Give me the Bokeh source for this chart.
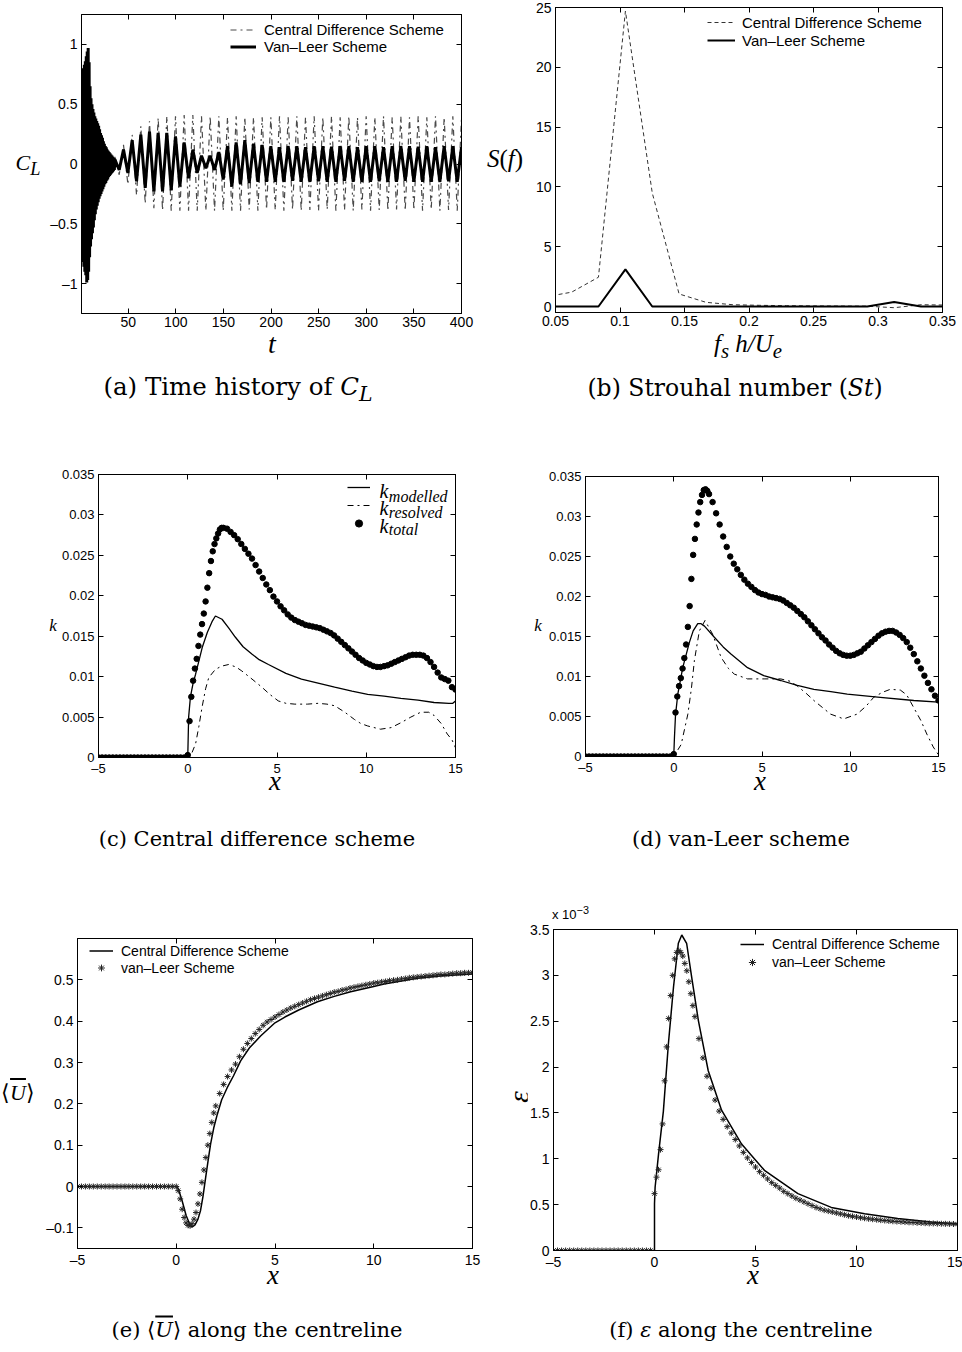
import math
from bokeh.plotting import figure
from bokeh.models import Range1d, LinearAxis, FixedTicker, Label, Legend, LegendItem, Div
from bokeh.layouts import column, row
from bokeh.embed import file_html
from bokeh.resources import INLINE

# ======================= DATA =======================
# (a) time history of C_L
cl_dense_t = [1.0, 1.5, 2.0, 2.5, 3.0, 3.5, 4.0, 4.5, 5.0, 5.5,
              6.0, 6.5, 7.0, 7.5, 8.0, 8.5, 9.0, 9.5, 10.0, 10.5,
              11.0, 11.5, 12.0, 12.5, 13.0, 13.5, 14.0, 14.5, 15.0, 15.5,
              16.0, 16.5, 17.0, 17.5, 18.0, 18.5, 19.0, 19.5, 20.0, 20.5,
              21.0, 21.5, 22.0, 22.5, 23.0, 23.5, 24.0, 24.5, 25.0, 25.5,
              26.0, 26.5, 27.0, 27.5, 28.0, 28.5, 29.0, 29.5, 30.0, 30.5,
              31.0, 31.5, 32.0, 32.5, 33.0, 33.5, 34.0, 34.5, 35.0, 35.5]
cl_dense_vl = [0.75, -0.78, 0.78, -0.82, 0.80, -0.86, 0.83, -0.90, 0.86, -0.93,
               0.90, -0.99, 0.94, -0.97, 0.97, -0.90, 0.85, -0.78, 0.65, -0.69,
               0.55, -0.63, 0.50, -0.58, 0.46, -0.53, 0.43, -0.47, 0.40, -0.42,
               0.38, -0.38, 0.36, -0.35, 0.34, -0.32, 0.32, -0.29, 0.29, -0.27,
               0.26, -0.25, 0.24, -0.23, 0.22, -0.21, 0.19, -0.19, 0.17, -0.17,
               0.15, -0.16, 0.14, -0.14, 0.12, -0.13, 0.11, -0.11, 0.10, -0.10,
               0.09, -0.09, 0.08, -0.08, 0.07, -0.07, 0.06, -0.06, 0.05, -0.05]
cl_ext_t = [36.0, 40.6, 45.1, 49.7, 54.2, 58.8, 63.3, 67.9, 72.4, 77.0,
            81.5, 86.1, 90.6, 95.2, 99.7, 104.3, 108.8, 113.4, 117.9, 122.5,
            127.0, 131.6, 136.1, 140.7, 145.2, 149.8, 154.3, 158.9, 163.4, 168.0,
            172.5, 177.1, 181.6, 186.2, 190.7, 195.3, 199.8, 204.4, 208.9, 213.5,
            218.0, 222.6, 227.1, 231.7, 236.2, 240.8, 245.3, 249.9, 254.4, 259.0,
            263.5, 268.1, 272.6, 277.2, 281.7, 286.3, 290.8, 295.4, 299.9, 304.5,
            309.0, 313.6, 318.1, 322.7, 327.2, 331.8, 336.3, 340.9, 345.4, 350.0,
            354.5, 359.1, 363.6, 368.2, 372.7, 377.3, 381.8, 386.4, 390.9, 395.5,
            400.0]
cl_cd = [0.06, -0.09, 0.16, -0.17, 0.245, -0.26, 0.315, -0.33, 0.357, -0.37,
         0.385, -0.385, 0.40, -0.39, 0.40, -0.39, 0.41, -0.39, 0.41, -0.39,
         0.40, -0.39, 0.40, -0.39, 0.40, -0.39, 0.39, -0.39, 0.40, -0.39,
         0.39, -0.38, 0.39, -0.39, 0.39, -0.38, 0.39, -0.385, 0.40, -0.39,
         0.39, -0.38, 0.40, -0.39, 0.39, -0.385, 0.40, -0.39, 0.39, -0.38,
         0.40, -0.39, 0.39, -0.385, 0.40, -0.39, 0.39, -0.38, 0.40, -0.39,
         0.39, -0.385, 0.40, -0.39, 0.39, -0.38, 0.40, -0.39, 0.39, -0.385,
         0.40, -0.39, 0.39, -0.38, 0.40, -0.39, 0.39, -0.385, 0.40, -0.39,
         0.38]
cl_vl = [0.04, -0.05, 0.12, -0.075, 0.20, -0.145, 0.245, -0.20, 0.27, -0.23,
         0.26, -0.23, 0.26, -0.22, 0.23, -0.19, 0.18, -0.12, 0.12, -0.075,
         0.07, -0.035, 0.07, -0.05, 0.10, -0.13, 0.15, -0.19, 0.18, -0.17,
         0.20, -0.16, 0.17, -0.15, 0.16, -0.15, 0.15, -0.15, 0.14, -0.15,
         0.15, -0.14, 0.15, -0.15, 0.14, -0.15, 0.15, -0.145, 0.15, -0.15,
         0.145, -0.15, 0.15, -0.14, 0.15, -0.15, 0.14, -0.15, 0.15, -0.15,
         0.15, -0.145, 0.14, -0.15, 0.15, -0.15, 0.15, -0.14, 0.15, -0.15,
         0.145, -0.15, 0.15, -0.15, 0.14, -0.15, 0.15, -0.145, 0.15, -0.15,
         0.14]
a_xticks = [50, 100, 150, 200, 250, 300, 350, 400]
a_xlabels = ["50", "100", "150", "200", "250", "300", "350", "400"]
a_yticks = [-1, -0.5, 0, 0.5, 1]
a_ylabels = ["\u20131", "\u20130.5", "0", "0.5", "1"]

# (b) spectrum
st_f = [0.0417, 0.0625, 0.0833, 0.1042, 0.125, 0.1458, 0.1667, 0.1875,
        0.2083, 0.2292, 0.25, 0.2708, 0.2917, 0.3125, 0.3333, 0.3542]
st_cd = [0.8, 1.2, 2.45, 24.7, 9.5, 1.05, 0.35, 0.15,
         0.1, 0.07, 0.05, 0.04, 0.03, -0.1, 0.15, 0.12]
st_vl = [0.0, 0.0, 0.0, 3.1, 0.0, 0.0, 0.0, 0.0,
         0.0, 0.0, 0.0, 0.0, 0.0, 0.38, 0.0, 0.0]
b_xticks = [0.05, 0.1, 0.15, 0.2, 0.25, 0.3, 0.35]
b_xlabels = ["0.05", "0.1", "0.15", "0.2", "0.25", "0.3", "0.35"]
b_yticks = [0, 5, 10, 15, 20, 25]
b_ylabels = ["0", "5", "10", "15", "20", "25"]

# common streamwise sample positions (markers)
xg = [-5.0, -4.8, -4.6, -4.4, -4.2, -4.0, -3.8, -3.6, -3.4, -3.2,
      -3.0, -2.8, -2.6, -2.4, -2.2, -2.0, -1.8, -1.6, -1.4, -1.2,
      -1.0, -0.8, -0.6, -0.4, -0.2,
      0.0, 0.1, 0.2, 0.3, 0.4, 0.5, 0.6, 0.7, 0.8, 0.9,
      1.0, 1.1, 1.2, 1.3, 1.4, 1.5, 1.6, 1.7, 1.8, 1.9, 2.0,
      2.2, 2.4, 2.6, 2.8, 3.0, 3.2, 3.4, 3.6, 3.8, 4.0,
      4.2, 4.4, 4.6, 4.8, 5.0, 5.2, 5.4, 5.6, 5.8, 6.0,
      6.2, 6.4, 6.6, 6.8, 7.0, 7.2, 7.4, 7.6, 7.8, 8.0,
      8.2, 8.4, 8.6, 8.8, 9.0, 9.2, 9.4, 9.6, 9.8, 10.0,
      10.2, 10.4, 10.6, 10.8, 11.0, 11.2, 11.4, 11.6, 11.8, 12.0,
      12.2, 12.4, 12.6, 12.8, 13.0, 13.2, 13.4, 13.6, 13.8, 14.0,
      14.2, 14.4, 14.6, 14.8, 15.0]

# (c) central difference scheme: k
kc_total = [0, 0, 0, 0, 0, 0, 0, 0, 0, 0,
            0, 0, 0, 0, 0, 0, 0, 0, 0, 0,
            0, 0, 0, 0, 0,
            0.0003, 0.0045, 0.0075, 0.0095, 0.011, 0.0122, 0.0138, 0.0152, 0.0165, 0.0178,
            0.0193, 0.021, 0.0228, 0.0243, 0.0255, 0.0264, 0.0271, 0.0277, 0.0282, 0.0284, 0.0284,
            0.0283, 0.0279, 0.0275, 0.027, 0.0264, 0.0258, 0.0252, 0.0246, 0.0238, 0.023,
            0.0222, 0.0214, 0.0207, 0.0199, 0.0193, 0.0187, 0.0182, 0.0177, 0.0173, 0.017,
            0.0168, 0.0166, 0.0164, 0.0163, 0.0162, 0.0161, 0.016, 0.0158, 0.0156, 0.0154,
            0.0151, 0.0147, 0.0143, 0.0139, 0.0135, 0.0131, 0.0127, 0.0123, 0.012, 0.0117,
            0.0115, 0.0113, 0.0112, 0.0112, 0.0113, 0.0114, 0.0116, 0.0118, 0.012, 0.0122,
            0.0124, 0.0126, 0.0127, 0.0127, 0.0127, 0.0126, 0.0123, 0.0118, 0.0112, 0.0105,
            0.0099, 0.0097, 0.0095, 0.0087, 0.0084]
kc_mod_x = [-5, 0, 0.05, 0.15, 0.3, 0.44, 0.81, 1.1, 1.36, 1.55, 1.92, 2.3, 2.66, 3.1, 3.59,
            4.0, 4.52, 5.5, 6.37, 7.3, 8.23, 9.2, 10.08, 11.0, 11.94, 12.9, 13.8, 14.63, 14.85, 15.0]
kc_mod = [0, 0, 0.005, 0.0075, 0.0092, 0.0103, 0.0136, 0.0155, 0.0168, 0.0175, 0.0171, 0.016,
          0.0149, 0.0137, 0.0128, 0.0121, 0.0115, 0.0104, 0.0097, 0.0092, 0.0087, 0.0082, 0.0078,
          0.0076, 0.0073, 0.0071, 0.0068, 0.0067, 0.0067, 0.007]
kc_res_x = [-5, 0, 0.2, 0.44, 0.62, 0.8, 1.0, 1.18, 1.55, 1.9, 2.29, 2.7, 3.03, 3.6, 4.15, 4.6,
            5.07, 5.5, 6.0, 6.7, 7.3, 7.8, 8.23, 8.8, 9.34, 9.7, 10.08, 10.8, 11.4, 11.94, 12.5,
            13.05, 13.5, 13.8, 14.2, 14.54, 14.8, 15.0]
kc_res = [0, 0, 0.0004, 0.0017, 0.0038, 0.0062, 0.0085, 0.0099, 0.0109, 0.0113, 0.0115, 0.0112,
          0.0107, 0.0097, 0.0087, 0.0078, 0.007, 0.0067, 0.0066, 0.0066, 0.0067, 0.0066, 0.0064,
          0.0056, 0.0047, 0.0042, 0.0039, 0.0035, 0.0037, 0.0043, 0.005, 0.0056, 0.0056, 0.0052,
          0.0042, 0.0029, 0.0022, 0.0012]

# (d) van-Leer scheme: k
kd_total = [0, 0, 0, 0, 0, 0, 0, 0, 0, 0,
            0, 0, 0, 0, 0, 0, 0, 0, 0, 0,
            0, 0, 0, 0, 0,
            0.0003, 0.0055, 0.0075, 0.0088, 0.0098, 0.011, 0.0123, 0.014, 0.0162, 0.0188,
            0.0222, 0.0252, 0.0272, 0.029, 0.0305, 0.0318, 0.0327, 0.0333, 0.0334, 0.0332, 0.0328,
            0.0318, 0.0304, 0.029, 0.0275, 0.0262, 0.025, 0.0241, 0.0234, 0.0227, 0.0221,
            0.0216, 0.0212, 0.0208, 0.0205, 0.0203, 0.0202, 0.02, 0.0199, 0.0198, 0.0197,
            0.0195, 0.0192, 0.0189, 0.0186, 0.0182, 0.0178, 0.0174, 0.0169, 0.0164, 0.0159,
            0.0154, 0.0149, 0.0145, 0.014, 0.0136, 0.0132, 0.0129, 0.0127, 0.0126, 0.0126,
            0.0127, 0.0129, 0.0131, 0.0135, 0.0139, 0.0143, 0.0147, 0.0151, 0.0154, 0.0156,
            0.0157, 0.0157, 0.0155, 0.0152, 0.0148, 0.0143, 0.0136, 0.0128, 0.0119, 0.011,
            0.0101, 0.0092, 0.0084, 0.0076, 0.007]
kd_mod_x = [-5, 0, 0.04, 0.1, 0.23, 0.51, 0.89, 1.1, 1.36, 1.55, 1.74, 2.3, 2.8, 3.24, 4.18,
            5.1, 6.06, 7.0, 7.94, 8.9, 9.83, 11.7, 13.6, 15.0]
kd_mod = [0, 0, 0.0024, 0.0052, 0.0078, 0.0111, 0.0143, 0.0157, 0.0166, 0.0166, 0.0163, 0.0149,
          0.0137, 0.0128, 0.0111, 0.0101, 0.0095, 0.0089, 0.0084, 0.0081, 0.0078, 0.0074, 0.007,
          0.0068]
kd_res_x = [-5, 0, 0.42, 0.8, 1.0, 1.17, 1.45, 1.77, 2.2, 2.68, 3.1, 3.43, 4.18, 5.12, 6.06,
            6.6, 7.0, 7.5, 7.94, 8.88, 9.63, 10.39, 10.9, 11.33, 11.8, 12.27, 12.84, 13.2, 13.6,
            14.0, 14.34, 14.7, 15.0]
kd_res = [0, 0, 0.0015, 0.0053, 0.0085, 0.012, 0.0157, 0.017, 0.0153, 0.0124, 0.011, 0.0103,
          0.0097, 0.0097, 0.0097, 0.0094, 0.0088, 0.0079, 0.007, 0.0053, 0.0047, 0.0053, 0.0063,
          0.0074, 0.008, 0.0084, 0.0083, 0.0077, 0.0061, 0.0045, 0.0028, 0.0012, 0.0002]
k_xticks = [-5, 0, 5, 10, 15]
k_xlabels = ["\u20135", "0", "5", "10", "15"]
k_yticks = [0, 0.005, 0.01, 0.015, 0.02, 0.025, 0.03, 0.035]
k_ylabels = ["0", "0.005", "0.01", "0.015", "0.02", "0.025", "0.03", "0.035"]

# (e) mean velocity along the centreline
u_vl = [0, 0, 0, 0, 0, 0, 0, 0, 0, 0,
        0, 0, 0, 0, 0, 0, 0, 0, 0, 0,
        0, 0, 0, 0, 0,
        0.0, -0.01, -0.03, -0.055, -0.075, -0.088, -0.094, -0.095, -0.09, -0.079,
        -0.063, -0.042, -0.018, 0.01, 0.04, 0.07, 0.1, 0.128, 0.155, 0.178, 0.195,
        0.225, 0.247, 0.266, 0.282, 0.296, 0.314, 0.332, 0.346, 0.358, 0.37,
        0.38, 0.39, 0.398, 0.404, 0.41, 0.416, 0.422, 0.427, 0.432, 0.436,
        0.44, 0.444, 0.448, 0.452, 0.455, 0.458, 0.461, 0.464, 0.467, 0.47,
        0.472, 0.475, 0.477, 0.48, 0.482, 0.484, 0.486, 0.488, 0.49, 0.492,
        0.493, 0.495, 0.496, 0.498, 0.499, 0.5, 0.502, 0.503, 0.505, 0.506,
        0.507, 0.508, 0.509, 0.51, 0.511, 0.512, 0.513, 0.513, 0.514, 0.515,
        0.516, 0.516, 0.517, 0.517, 0.518]
u_cd_x = [-5, 0, 0.1, 0.3, 0.5, 0.7, 0.81, 0.95, 1.1, 1.23, 1.35, 1.49, 1.62, 1.74, 1.9, 2.08,
          2.3, 2.58, 2.9, 3.26, 3.7, 4.27, 5.0, 5.5, 6.2, 7.15, 8.0, 8.83, 10.0, 10.52, 12.21,
          13.5, 15.0]
u_cd = [0, 0, -0.005, -0.035, -0.07, -0.093, -0.098, -0.093, -0.079, -0.058, -0.025, 0.022,
        0.065, 0.103, 0.142, 0.175, 0.21, 0.239, 0.268, 0.304, 0.335, 0.364, 0.396, 0.41, 0.427,
        0.447, 0.46, 0.471, 0.484, 0.49, 0.504, 0.51, 0.514]
u_yticks = [-0.1, 0, 0.1, 0.2, 0.3, 0.4, 0.5]
u_ylabels = ["\u20130.1", "0", "0.1", "0.2", "0.3", "0.4", "0.5"]

# (f) dissipation along the centreline (units of 1e-3)
eps_vl = [0, 0, 0, 0, 0, 0, 0, 0, 0, 0,
          0, 0, 0, 0, 0, 0, 0, 0, 0, 0,
          0, 0, 0, 0, 0,
          0.62, 0.8, 0.88, 1.1, 1.38, 1.85, 2.22, 2.53, 2.78, 3.0,
          3.18, 3.25, 3.27, 3.25, 3.21, 3.13, 3.05, 2.93, 2.8, 2.67, 2.55,
          2.31, 2.1, 1.9, 1.77, 1.64, 1.52, 1.43, 1.35, 1.28, 1.21,
          1.14, 1.07, 1.01, 0.96, 0.91, 0.86, 0.82, 0.78, 0.74, 0.71,
          0.68, 0.645, 0.62, 0.595, 0.57, 0.55, 0.53, 0.51, 0.49, 0.47,
          0.455, 0.44, 0.43, 0.42, 0.41, 0.4, 0.39, 0.38, 0.372, 0.365,
          0.358, 0.352, 0.346, 0.341, 0.336, 0.331, 0.327, 0.323, 0.319, 0.316,
          0.313, 0.31, 0.307, 0.305, 0.302, 0.3, 0.298, 0.296, 0.295, 0.293,
          0.292, 0.291, 0.29, 0.289, 0.288]
eps_cd_x = [-5, 0, 0.0, 0.03, 0.2, 0.44, 0.69, 0.94, 1.18, 1.35, 1.59, 1.84, 2.17, 2.66, 3.32,
            4.31, 5.46, 7.1, 8.75, 10.4, 12.04, 13.68, 15.0]
eps_cd = [0, 0, 0.51, 0.69, 1.05, 1.52, 2.26, 2.87, 3.35, 3.44, 3.35, 2.98, 2.51, 1.96, 1.53,
          1.16, 0.87, 0.62, 0.47, 0.4, 0.35, 0.31, 0.29]
e_yticks = [0, 0.5, 1, 1.5, 2, 2.5, 3, 3.5]
e_ylabels = ["0", "0.5", "1", "1.5", "2", "2.5", "3", "3.5"]

for a, b in ((cl_dense_t, cl_dense_vl), (cl_ext_t, cl_cd), (cl_ext_t, cl_vl), (st_f, st_cd),
             (st_f, st_vl), (xg, kc_total), (xg, kd_total), (xg, u_vl), (xg, eps_vl),
             (kc_mod_x, kc_mod), (kc_res_x, kc_res), (kd_mod_x, kd_mod), (kd_res_x, kd_res),
             (u_cd_x, u_cd), (eps_cd_x, eps_cd)):
    assert len(a) == len(b), (len(a), len(b))

# ======================= STYLE / HELPERS =======================
SANS = "Liberation Sans"
SERIF = "Liberation Serif"
CAP = "DejaVu Serif"


def style_axis(ax, ticks, labels, size, hidden=False, standoff=4):
    ax.ticker = FixedTicker(ticks=ticks)
    ax.major_tick_in = 5
    ax.major_tick_out = 0
    ax.minor_tick_line_color = None
    ax.axis_line_color = "black"
    ax.major_tick_line_color = "black"
    if hidden:
        ax.major_label_text_font_size = "1px"
        ax.major_label_text_color = None
        ax.major_label_standoff = 0
        ax.axis_label = None
    else:
        ax.major_label_overrides = dict(zip(ticks, labels))
        ax.major_label_text_font = SANS
        ax.major_label_text_font_size = size
        ax.major_label_text_color = "black"
        ax.major_label_standoff = standoff


def make_panel(ox, oy, W, H, bl, br, bt, bb, xr, yr, xt, xl, yt, yl, size):
    p = figure(width=W, height=H, x_range=Range1d(*xr), y_range=Range1d(*yr),
               output_backend="svg", toolbar_location=None, frame_align=False,
               min_border_left=bl, min_border_right=br, min_border_top=bt, min_border_bottom=bb)
    p.xgrid.visible = False
    p.ygrid.visible = False
    p.outline_line_color = "black"
    p.outline_line_alpha = 1.0
    p.outline_line_width = 1
    p.background_fill_color = "white"
    p.border_fill_color = "white"
    style_axis(p.xaxis[0], xt, xl, size, standoff=3)
    style_axis(p.yaxis[0], yt, yl, size, standoff=4)
    top = LinearAxis()
    style_axis(top, xt, xl, size, hidden=True)
    right = LinearAxis()
    style_axis(right, yt, yl, size, hidden=True)
    p.add_layout(top, "above")
    p.add_layout(right, "right")
    g = (ox, oy, bl, bt, W - bl - br, H - bt - bb, xr[0], xr[1], yr[0], yr[1])
    return p, g


def put(p, g, px, py, text, size, font=SERIF, fstyle="italic", align="center"):
    # text inside the plot frame (page pixel position -> data position)
    ox, oy, L, T, W, H, x0, x1, y0, y1 = g
    x = x0 + (px - ox - L) / W * (x1 - x0)
    y = y1 - (py - oy - T) / H * (y1 - y0)
    p.add_layout(Label(x=x, y=y, text=text, text_font=font, text_font_size=f"{size}px",
                       text_font_style=fstyle, text_align=align, text_baseline="middle",
                       text_color="black"))


def sp(px, py, html, size, font=SERIF, italic=True, align="center", rot=0):
    return (px, py, html, size, font, italic, align, rot)


def textbox(x0, y0, w, h, items):
    parts = [f'<div style="position:relative;width:{w}px;height:{h}px;overflow:visible;">']
    for (px, py, html, size, font, italic, align, rot) in items:
        tx = {"center": "-50%", "left": "0%", "right": "-100%"}[align]
        tr = f"translate({tx},-50%)" + (f" rotate({rot}deg)" if rot else "")
        st = "italic" if italic else "normal"
        parts.append(
            f'<span style="position:absolute;left:{px - x0:.1f}px;top:{py - y0:.1f}px;'
            f'transform:{tr};white-space:nowrap;line-height:1;font-family:\'{font}\';'
            f'font-size:{size}px;font-style:{st};color:#000;">{html}</span>')
    parts.append('</div>')
    return Div(text="".join(parts), width=w, height=h, margin=0,
               styles={"overflow": "visible"})


def legend(p, items, loc, gw, standoff, pitch, fsize):
    lg = Legend(items=items, location=loc, orientation="vertical", padding=0, spacing=0,
                margin=0, glyph_width=gw, glyph_height=pitch, label_height=pitch,
                label_standoff=standoff, label_text_font=SANS, label_text_font_size=fsize,
                label_text_color="black", border_line_color=None, background_fill_alpha=0)
    p.add_layout(lg)


OVU = '\u27e8<span style="text-decoration:overline;font-style:italic;">U</span>\u27e9'

# ======================= (a) =======================
pa, ga = make_panel(46, 0, 435, 335, 35, 20, 14, 22, (1, 400), (-1.25, 1.25),
                    a_xticks, a_xlabels, a_yticks, a_ylabels, "14px")
r_cd = pa.line(cl_ext_t, cl_cd, line_color="#4a4a4a", line_width=1.2, line_dash="dashdot")
r_vl = pa.line(cl_dense_t + cl_ext_t, cl_dense_vl + cl_vl, line_color="black", line_width=3)
legend(pa, [LegendItem(label="Central Difference Scheme", renderers=[r_cd]),
            LegendItem(label="Van\u2013Leer Scheme", renderers=[r_vl])],
       (149, 258), 26, 8, 17, "15px")
dla = textbox(0, 0, 46, 335, [sp(28, 165, "C<sub>L</sub>", 22)])
dba = textbox(0, 335, 481, 115, [
    sp(272, 344, "t", 28),
    sp(238, 390, "(a) Time history of <i>C<sub>L</sub></i>", 24.5, CAP, False)])

# ======================= (b) =======================
pb, gb = make_panel(531, 0, 431, 335, 24, 20, 7, 23, (0.05, 0.35), (-0.5, 25),
                    b_xticks, b_xlabels, b_yticks, b_ylabels, "14px")
r_bcd = pb.line(st_f, st_cd, line_color="#333333", line_width=1, line_dash="4 3")
r_bvl = pb.line(st_f, st_vl, line_color="black", line_width=2)
legend(pb, [LegendItem(label="Central Difference Scheme", renderers=[r_bcd]),
            LegendItem(label="Van\u2013Leer Scheme", renderers=[r_bvl])],
       (152, 263), 28, 7, 18, "15px")
dlb = textbox(481, 0, 50, 335, [sp(505, 158, "S<span style='font-style:normal'>(</span>f<span style='font-style:normal'>)</span>", 25)])
dbb = textbox(481, 335, 481, 115, [
    sp(748, 346, "f<sub>s</sub> h/U<sub>e</sub>", 25),
    sp(735, 389, "(b) Strouhal number (<i>St</i>)", 23.5, CAP, False)])

# ======================= (c) =======================
pc, gc = make_panel(58, 450, 423, 329, 38, 26, 24, 22, (-5, 15), (0, 0.035),
                    k_xticks, k_xlabels, k_yticks, k_ylabels, "13px")
r_cm = pc.line(kc_mod_x, kc_mod, line_color="black", line_width=1.3)
r_cr = pc.line(kc_res_x, kc_res, line_color="black", line_width=1, line_dash="dashdot")
r_ct = pc.scatter(xg, kc_total, marker="circle", size=5.5, fill_color="black", line_color="black")
legend(pc, [LegendItem(label=" ", renderers=[r_cm]),
            LegendItem(label=" ", renderers=[r_cr]),
            LegendItem(label=" ", renderers=[r_ct])],
       (249, 225), 23, 5, 18, "10px")
put(pc, gc, 383, 490, "k", 20)
put(pc, gc, 388, 496, "modelled", 16, SERIF, "italic", "left")
put(pc, gc, 383, 507, "k", 20)
put(pc, gc, 388, 512, "resolved", 16, SERIF, "italic", "left")
put(pc, gc, 383, 525, "k", 20)
put(pc, gc, 388, 529, "total", 16, SERIF, "italic", "left")
dlc = textbox(0, 450, 58, 329, [sp(53, 625, "k", 17)])
dbc = textbox(0, 779, 481, 126, [
    sp(275, 781, "x", 27),
    sp(257, 839, "(c) Central difference scheme", 21, CAP, False)])

# ======================= (d) =======================
pd_, gd = make_panel(545, 450, 417, 329, 39, 24, 26, 23, (-5, 15), (0, 0.035),
                     k_xticks, k_xlabels, k_yticks, k_ylabels, "13px")
pd_.line(kd_mod_x, kd_mod, line_color="black", line_width=1.3)
pd_.line(kd_res_x, kd_res, line_color="black", line_width=1, line_dash="dashdot")
pd_.scatter(xg, kd_total, marker="circle", size=5.5, fill_color="black", line_color="black")
dld = textbox(481, 450, 64, 329, [sp(538, 625, "k", 17)])
dbd = textbox(481, 779, 481, 126, [
    sp(760, 781, "x", 27),
    sp(741, 839, "(d) van-Leer scheme", 21, CAP, False)])

# ======================= (e) =======================
pe, ge = make_panel(40, 905, 441, 365, 37, 9, 33, 22, (-5, 15), (-0.15, 0.6),
                    k_xticks, k_xlabels, u_yticks, u_ylabels, "14px")
r_ecd = pe.line(u_cd_x, u_cd, line_color="black", line_width=1.5)
r_evl = pe.scatter(xg, u_vl, marker="asterisk", size=6, line_color="#222222", line_width=1)
legend(pe, [LegendItem(label="Central Difference Scheme", renderers=[r_ecd]),
            LegendItem(label="van\u2013Leer Scheme", renderers=[r_evl])],
       (12, 272), 24, 8, 17, "14px")
dle = textbox(0, 905, 40, 365, [sp(18, 1093, OVU, 22, SERIF, False)])
dbe = textbox(0, 1270, 481, 82, [
    sp(273, 1275, "x", 27),
    sp(257, 1330, "(e) " + OVU + " along the centreline", 21, CAP, False)])

# ======================= (f) =======================
pf, gf = make_panel(527, 920, 435, 352, 24, 5, 9, 22, (-5, 15), (0, 3.5),
                    k_xticks, k_xlabels, e_yticks, e_ylabels, "14px")
r_fcd = pf.line(eps_cd_x, eps_cd, line_color="black", line_width=1.5)
r_fvl = pf.scatter(xg, eps_vl, marker="asterisk", size=6, line_color="#222222", line_width=1)
legend(pf, [LegendItem(label="Central Difference Scheme", renderers=[r_fcd]),
            LegendItem(label="van\u2013Leer Scheme", renderers=[r_fvl])],
       (187, 279), 24, 8, 18, "14px")
dtf = textbox(481, 905, 481, 15, [sp(552, 913, "x 10<sup>\u22123</sup>", 13, SANS, False, "left")])
dlf = textbox(481, 920, 46, 352, [sp(519, 1097, "\u03b5", 29, SERIF, True, "center", -90)])
dbf = textbox(481, 1272, 481, 80, [
    sp(753, 1275, "x", 27),
    sp(741, 1330, "(f) <i>\u03b5</i> along the centreline", 21, CAP, False)])

cell_a = column(row(dla, pa), dba)
cell_b = column(row(dlb, pb), dbb)
cell_c = column(row(dlc, pc), dbc)
cell_d = column(row(dld, pd_), dbd)
cell_e = column(row(dle, pe), dbe)
cell_f = column(dtf, row(dlf, pf), dbf)
layout = column(row(cell_a, cell_b), row(cell_c, cell_d), row(cell_e, cell_f))
open("out.html", "w").write(file_html(layout, INLINE))
